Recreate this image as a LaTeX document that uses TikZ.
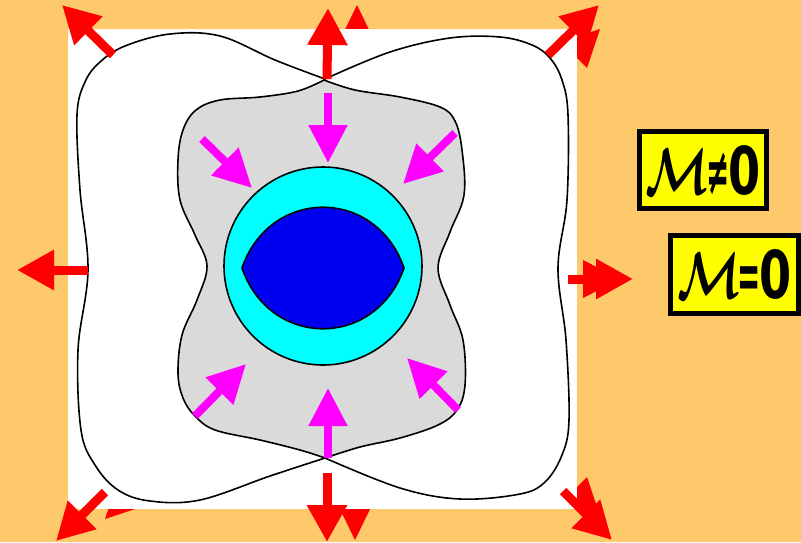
\RequirePackage{fix-cm}
\documentclass[tikz,border=0pt]{standalone}
\usepackage{fontspec}
\usepackage{graphicx}
\newfontfamily\labelfont{DejaVu Sans Bold}
\usetikzlibrary{arrows.meta}
\definecolor{bgorange}{RGB}{254,201,107}
\definecolor{shellgray}{RGB}{218,218,218}
\definecolor{corecyan}{RGB}{0,255,255}
\definecolor{coreblue}{RGB}{0,0,240}
\definecolor{pushmagenta}{RGB}{255,0,255}
\definecolor{labelyellow}{RGB}{255,255,0}

\begin{document}
\begin{tikzpicture}[
x=1pt, y=-1pt,
outline/.style={draw=black, line width=1.6pt},
redarrow/.style={draw=red, line width=9pt, -{Triangle[length=37pt, width=38pt]}},
pusharrow/.style={draw=pushmagenta, line width=8pt, -{Triangle[length=38pt, width=37pt]}},
ghosthead/.style={fill=red},
labelbox/.style={draw, line width=5pt, fill=labelyellow, inner sep=0pt, font=\labelfont\fontsize{66}{66}\selectfont}
]

\useasboundingbox (0,0) rectangle (801,542);
\fill[bgorange] (0,0) rectangle (801,542);

\fill[ghosthead] (357,5) -- (339,42) -- (375,42) -- cycle;
\fill[ghosthead] (600,29) -- (561,42) -- (587,68) -- cycle;
\fill[ghosthead] (355,540) -- (337,503) -- (373,503) -- cycle;
\fill[ghosthead] (105,519) -- (118,480) -- (144,506) -- cycle;
\fill[ghosthead] (600,516) -- (561,503) -- (587,477) -- cycle;
\fill[ghosthead] (620,279) -- (583,260) -- (583,298) -- cycle;

\fill[white] (68,29) rectangle (577,509);

\path[outline, fill=white] plot[smooth, tension=0.6] coordinates {(325,79) (390,52) (450,38) (500,37) (532,45) (550,58) (562,80) (568,115) (567,200) (558,268) (566,340) (569,420) (562,455) (545,482) (520,494) (460,499) (400,488) (325,458)}
  -- plot[smooth, tension=0.6] coordinates {(325,458) (270,476) (200,500) (150,501) (118,490) (95,465) (81,430) (78,350) (88,270) (80,190) (77,115) (85,82) (100,62) (125,46) (170,34) (220,36) (275,60) (325,79)} -- cycle;

\path[outline, fill=shellgray] plot[smooth, tension=0.6] coordinates {(324,80) (355,90) (400,97) (440,107) (455,121) (462,150) (464,195) (450,232) (438,268) (450,305) (463,340) (465,385) (457,410) (438,425) (400,438) (360,447) (325,458)}
  -- plot[smooth, tension=0.6] coordinates {(325,458) (300,450) (260,440) (215,430) (195,416) (183,398) (178,373) (182,335) (197,300) (207,266) (195,235) (180,200) (178,160) (183,130) (196,110) (220,100) (260,97) (298,91) (324,80)} -- cycle;

\path[outline, fill=corecyan] (323,266) circle[radius=99];
\path[outline, fill=coreblue] (242,268) .. controls (270,187) and (376,187) .. (404,268) .. controls (376,349) and (270,349) .. (242,268) -- cycle;

\coordinate (topfrom) at (327,79);
\coordinate (topto) at (328,8);
\coordinate (tlfrom) at (113,55);
\coordinate (tlto) at (62,5);
\coordinate (trfrom) at (548,55);
\coordinate (trto) at (599,5);
\coordinate (leftfrom) at (88,270);
\coordinate (leftto) at (17,270);
\coordinate (rightfrom) at (568,279);
\coordinate (rightto) at (633,279);
\coordinate (botfrom) at (327,473);
\coordinate (botto) at (327,542);
\coordinate (blfrom) at (105,492);
\coordinate (blto) at (56,541);
\coordinate (brfrom) at (563,491);
\coordinate (brto) at (612,540);

\draw[redarrow] (topfrom) -- (topto);
\draw[redarrow] (tlfrom) -- (tlto);
\draw[redarrow] (trfrom) -- (trto);
\draw[redarrow] (leftfrom) -- (leftto);
\draw[redarrow] (rightfrom) -- (rightto);
\draw[redarrow] (botfrom) -- (botto);
\draw[redarrow] (blfrom) -- (blto);
\draw[redarrow] (brfrom) -- (brto);

\coordinate (ptfrom) at (328,93);
\coordinate (ptto) at (328,163);
\coordinate (ptlfrom) at (202,139);
\coordinate (ptlto) at (252,188);
\coordinate (ptrfrom) at (455,133);
\coordinate (ptrto) at (403,184);
\coordinate (pblfrom) at (195,416);
\coordinate (pblto) at (246,364);
\coordinate (pbfrom) at (328,458);
\coordinate (pbto) at (328,388);
\coordinate (pbrfrom) at (458,410);
\coordinate (pbrto) at (407,358);

\draw[pusharrow] (ptfrom) -- (ptto);
\draw[pusharrow] (ptlfrom) -- (ptlto);
\draw[pusharrow] (ptrfrom) -- (ptrto);
\draw[pusharrow] (pblfrom) -- (pblto);
\draw[pusharrow] (pbfrom) -- (pbto);
\draw[pusharrow] (pbrfrom) -- (pbrto);

\node[labelbox, minimum width=127pt, minimum height=77pt] (massneq) at (703,170) {\scalebox{0.7}[1]{{\boldmath$\mathcal{M}$}\kern-4pt\scalebox{0.6}[1]{≠}\kern-2pt0}};
\node[labelbox, minimum width=128pt, minimum height=78pt] (masseq) at (734.5,274.5) {\scalebox{0.7}[1]{{\boldmath$\mathcal{M}$}\kern-4pt\scalebox{0.6}[1]{=}\kern-2pt0}};

\end{tikzpicture}
\end{document}
